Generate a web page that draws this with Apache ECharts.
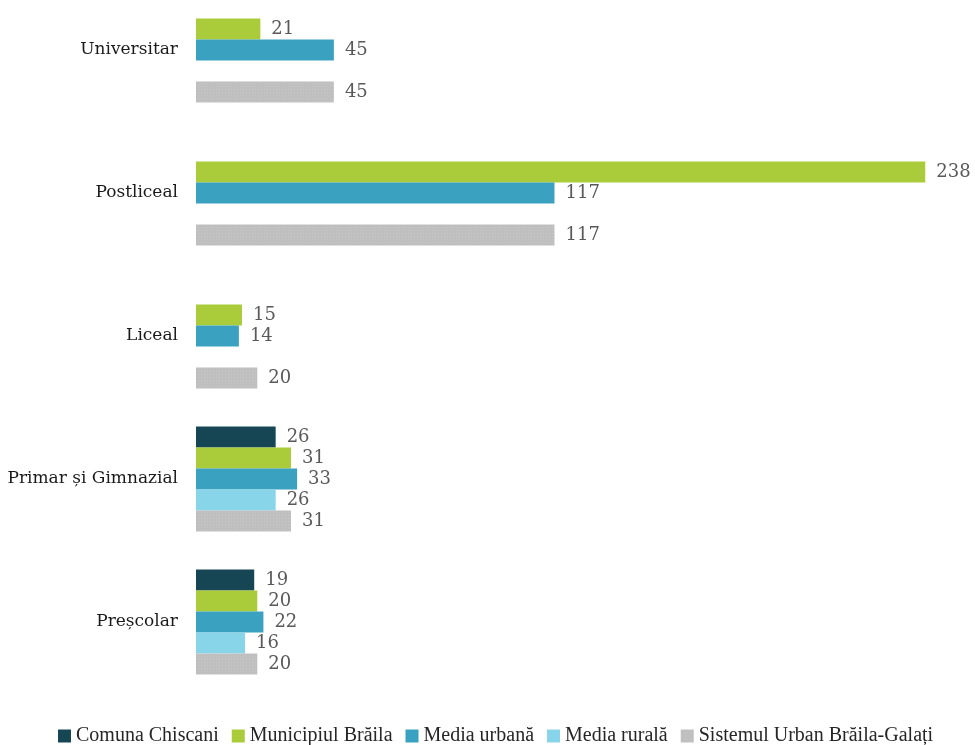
<!DOCTYPE html>
<html>
<head>
<meta charset="utf-8">
<script src="https://cdn.jsdelivr.net/npm/echarts@6/dist/echarts.min.js"></script>
<style>
  html, body { margin: 0; padding: 0; background: #fff; overflow: hidden; height: 745px; }
  /* graficul incepe putin deasupra paginii, ca in original */
  #chart { width: 975px; height: 775px; margin-top: -22px; }
</style>
</head>
<body>
<div id="chart"></div>
<script>
// categorii, de sus in jos
var categories = ['Universitar', 'Postliceal', 'Liceal', 'Primar și Gimnazial', 'Preșcolar'];
var seriesNames = ['Comuna Chiscani', 'Municipiul Brăila', 'Media urbană', 'Media rurală', 'Sistemul Urban Brăila-Galați'];
var comunaChiscani = ['-', '-', '-', 26, 19];
var municipiulBraila = [21, 238, 15, 31, 20];
var mediaUrbana = [45, 117, 14, 33, 22];
var mediaRurala = ['-', '-', '-', 26, 16];
var sistemulUrban = [45, 117, 20, 31, 20];
var colors = ['#164654', '#aacc3a', '#3ba1c1', '#88d4e8', '#bfbfbf'];

var chart = echarts.init(document.getElementById('chart'));

var allData = [comunaChiscani, municipiulBraila, mediaUrbana, mediaRurala, sistemulUrban];
var series = allData.map(function (d, i) {
  var s = {
    name: seriesNames[i],
    type: 'bar',
    data: d,
    barGap: '0%',
    barCategoryGap: '26.6%',
    itemStyle: { color: colors[i] },
    label: {
      show: true,
      position: 'right',
      distance: 11,
      color: '#595959',
      fontSize: 18,
      fontFamily: 'DejaVu Serif'
    }
  };
  if (i === 4) {
    // textura fina pe barele gri
    s.itemStyle.decal = {
      symbol: 'rect',
      symbolSize: 1,
      dashArrayX: [1, 2],
      dashArrayY: [1, 2],
      color: 'rgba(255,255,255,0.15)'
    };
  }
  return s;
});

var option = {
  animation: false,
  color: colors,
  grid: { left: 196, top: 0.5, width: 766, height: 715 },
  legend: {
    data: seriesNames,
    bottom: 2,
    left: 53,
    width: 960,
    itemWidth: 13,
    itemHeight: 13,
    itemGap: 13,
    icon: 'rect',
    textStyle: { fontSize: 20, color: '#262626', fontFamily: 'Liberation Serif' }
  },
  xAxis: {
    type: 'value',
    min: 0,
    max: 250,
    show: false
  },
  yAxis: {
    type: 'category',
    inverse: true,
    data: categories,
    axisLine: { show: false },
    axisTick: { show: false },
    axisLabel: { margin: 18, fontSize: 17, color: '#1a1a1a', fontFamily: 'DejaVu Serif' }
  },
  series: series
};

chart.setOption(option);
</script>
</body>
</html>
